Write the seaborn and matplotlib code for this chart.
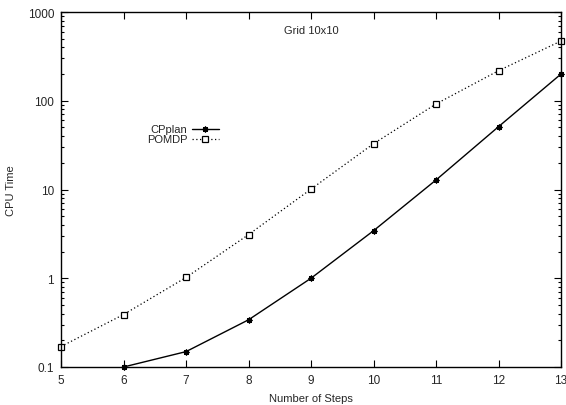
import matplotlib
matplotlib.use("Agg")
import matplotlib.pyplot as plt
import matplotlib.ticker as mticker
import seaborn as sns
import pandas as pd
import numpy as np

steps_cp = [6, 7, 8, 9, 10, 11, 12, 13]
cpplan = [0.1, 0.149, 0.34, 1.0, 3.43, 12.8, 51, 200]
steps_pomdp = [5, 6, 7, 8, 9, 10, 11, 12, 13]
pomdp = [0.17, 0.39, 1.02, 3.1, 10.1, 32.8, 92, 218, 471]
yticks = [0.1, 1, 10, 100, 1000]
ytick_labels = ["0.1", "1", "10", "100", "1000"]
xticks = [5, 6, 7, 8, 9, 10, 11, 12, 13]

sns.set_style("ticks")
plt.rcParams["font.family"] = ["Liberation Sans", "DejaVu Sans"]
plt.rcParams["font.size"] = 8

fig = plt.figure(figsize=(5.66, 4.06), dpi=100)
ax = fig.add_axes([61/566, (406-368)/406, 500/566, 355/406])

df_cp = pd.DataFrame({"steps": steps_cp, "time": cpplan})
df_po = pd.DataFrame({"steps": steps_pomdp, "time": pomdp})

sns.lineplot(data=df_cp, x="steps", y="time", ax=ax, color="black", linewidth=1.0,
             marker=(8, 2, 0), markersize=4.2, markeredgewidth=0.9, markeredgecolor="black",
             label="CPplan", clip_on=False)
sns.lineplot(data=df_po, x="steps", y="time", ax=ax, color="black", linewidth=0.9,
             linestyle=(0, (1, 2.0)), marker="s", markersize=3.8, markerfacecolor="white",
             markeredgecolor="black", markeredgewidth=0.9, label="POMDP", clip_on=False)

ax.set_yscale("log")
ax.set_xlim(5, 13)
ax.set_ylim(0.1, 1000)
ax.set_xticks(xticks)
ax.set_xticklabels([str(x) for x in xticks])
ax.yaxis.set_major_locator(mticker.FixedLocator(yticks))
ax.yaxis.set_major_formatter(mticker.FixedFormatter(ytick_labels))
ax.yaxis.set_minor_locator(mticker.LogLocator(base=10, subs=np.arange(2, 10)))
ax.yaxis.set_minor_formatter(mticker.NullFormatter())

ax.tick_params(which="both", direction="in", top=True, right=True, color="black",
               labelsize=8.5, pad=5)
ax.tick_params(which="major", length=5, width=0.8)
ax.tick_params(which="minor", length=2.5, width=0.8)
for s in ax.spines.values():
    s.set_visible(True)
    s.set_linewidth(1.0)
    s.set_color("black")

ax.set_xlabel("Number of Steps", fontsize=8, labelpad=5)
ax.set_ylabel("CPU Time", fontsize=8, labelpad=8)
ax.text(9, 627, "Grid 10x10", ha="center", va="center", fontsize=8)

leg = ax.legend(loc="center right", bbox_to_anchor=(0.315, 0.655), frameon=False,
                markerfirst=False, handlelength=2.4, handletextpad=0.4,
                labelspacing=0.0, borderpad=0, borderaxespad=0, fontsize=8)

fig.savefig("out.png", dpi=100)
